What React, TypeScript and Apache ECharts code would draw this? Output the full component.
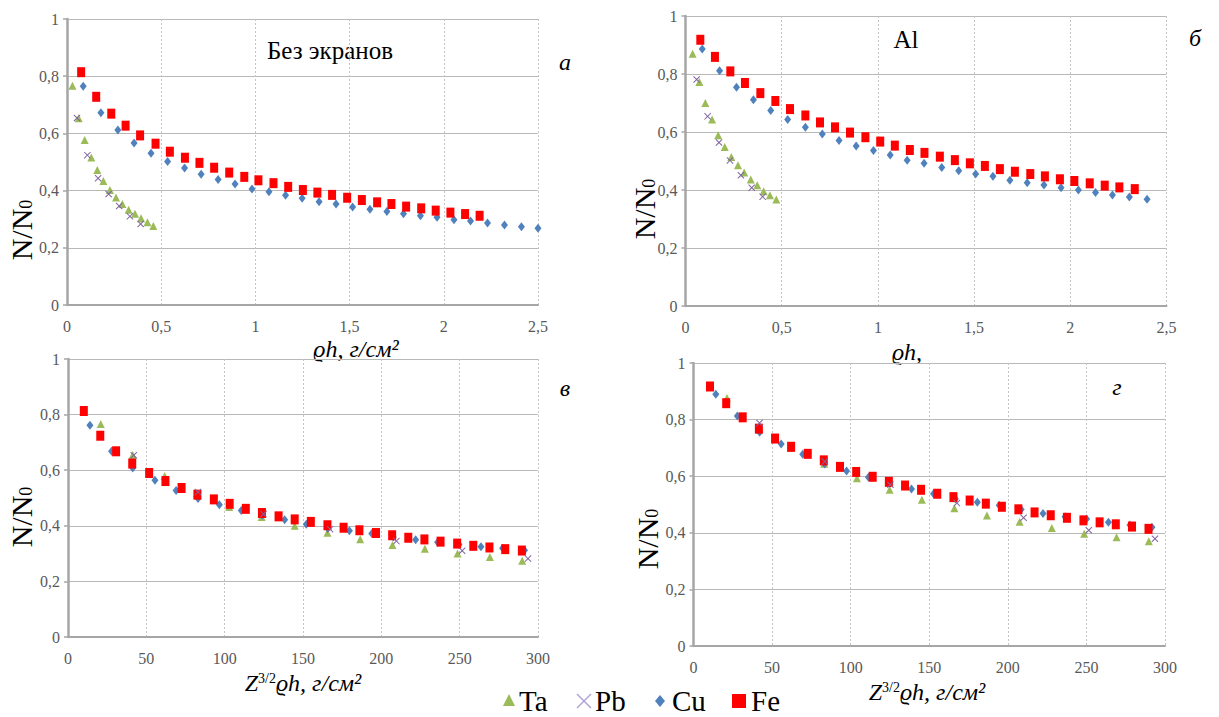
import React, { useEffect, useRef } from "react";
import * as echarts from "echarts";

type P = [number, number];

// Panel а — без экранов (x: ϱh, г/см²)
const aTa: P[] = [[0.029,0.767],[0.062,0.653],[0.094,0.577],[0.129,0.516],[0.161,0.472],[0.193,0.434],[0.228,0.402],[0.260,0.376],[0.294,0.353],[0.327,0.333],[0.361,0.319],[0.393,0.303],[0.427,0.289],[0.458,0.276]];
const aPb: P[] = [[0.053,0.654],[0.108,0.524],[0.165,0.443],[0.221,0.388],[0.277,0.346],[0.334,0.310],[0.391,0.283]];
const aCu: P[] = [[0.086,0.765],[0.180,0.672],[0.270,0.612],[0.356,0.566],[0.446,0.531],[0.534,0.502],[0.624,0.479],[0.712,0.457],[0.802,0.439],[0.892,0.423],[0.982,0.406],[1.072,0.396],[1.160,0.384],[1.248,0.373],[1.338,0.361],[1.428,0.353],[1.516,0.343],[1.608,0.335],[1.698,0.327],[1.786,0.319],[1.876,0.312],[1.964,0.307],[2.054,0.298],[2.142,0.294],[2.232,0.287],[2.322,0.280],[2.412,0.274],[2.500,0.268]];
const aFe: P[] = [[0.075,0.814],[0.155,0.728],[0.235,0.669],[0.311,0.627],[0.388,0.593],[0.470,0.564],[0.546,0.536],[0.626,0.515],[0.703,0.497],[0.781,0.480],[0.861,0.463],[0.941,0.448],[1.016,0.436],[1.096,0.426],[1.174,0.413],[1.252,0.402],[1.329,0.393],[1.407,0.385],[1.487,0.375],[1.565,0.367],[1.646,0.359],[1.722,0.353],[1.800,0.344],[1.880,0.338],[1.957,0.330],[2.035,0.323],[2.113,0.318],[2.190,0.312]];

// Panel б — Al
const bTa: P[] = [[0.037,0.870],[0.072,0.772],[0.103,0.700],[0.138,0.643],[0.170,0.589],[0.204,0.548],[0.238,0.514],[0.273,0.485],[0.305,0.460],[0.339,0.436],[0.373,0.416],[0.406,0.396],[0.439,0.382],[0.472,0.367]];
const bPb: P[] = [[0.058,0.781],[0.115,0.654],[0.174,0.564],[0.231,0.502],[0.288,0.451],[0.344,0.408],[0.401,0.377]];
const bCu: P[] = [[0.087,0.886],[0.177,0.811],[0.265,0.754],[0.353,0.711],[0.443,0.674],[0.531,0.643],[0.623,0.616],[0.711,0.593],[0.798,0.571],[0.887,0.552],[0.977,0.536],[1.064,0.521],[1.152,0.503],[1.240,0.492],[1.332,0.478],[1.420,0.466],[1.508,0.455],[1.598,0.447],[1.686,0.434],[1.776,0.425],[1.863,0.417],[1.952,0.408],[2.042,0.400],[2.131,0.391],[2.219,0.383],[2.307,0.376],[2.399,0.368]];
const bFe: P[] = [[0.077,0.918],[0.153,0.859],[0.233,0.809],[0.309,0.769],[0.389,0.734],[0.467,0.707],[0.543,0.679],[0.623,0.657],[0.699,0.633],[0.777,0.616],[0.855,0.598],[0.935,0.582],[1.012,0.567],[1.088,0.553],[1.166,0.538],[1.242,0.528],[1.322,0.515],[1.400,0.503],[1.478,0.492],[1.556,0.483],[1.634,0.472],[1.712,0.463],[1.792,0.455],[1.868,0.447],[1.946,0.437],[2.021,0.431],[2.101,0.423],[2.179,0.415],[2.255,0.409],[2.335,0.403]];

// Panel в — без экранов (x: Z^3/2 ϱh)
const cTa: P[] = [[20.9,0.766],[41.3,0.655],[61.7,0.579],[82.3,0.517],[102.9,0.468],[123.6,0.432],[144.7,0.400],[165.6,0.375],[186.5,0.352],[207.1,0.331],[227.8,0.317],[248.6,0.300],[269.3,0.288],[289.9,0.274]];
const cPb: P[] = [[42.0,0.654],[83.0,0.522],[124.8,0.442],[167.3,0.388],[209.6,0.345],[251.6,0.310],[293.6,0.282]];
const cCu: P[] = [[14.0,0.762],[27.8,0.668],[41.3,0.608],[55.5,0.564],[69.0,0.527],[83.0,0.498],[96.6,0.476],[110.6,0.455],[124.1,0.438],[138.3,0.422],[152.1,0.406],[165.8,0.390],[179.6,0.382],[193.9,0.372],[207.6,0.360],[221.9,0.350],[235.9,0.341],[249.6,0.333],[263.6,0.325],[277.4,0.319],[291.4,0.312]];
const cFe: P[] = [[10.1,0.813],[20.6,0.724],[30.7,0.668],[41.0,0.624],[51.8,0.590],[62.2,0.561],[72.5,0.536],[82.6,0.512],[93.1,0.495],[103.2,0.479],[113.5,0.461],[123.8,0.446],[134.4,0.434],[144.7,0.423],[155.0,0.414],[165.6,0.402],[175.9,0.393],[186.0,0.384],[196.6,0.374],[206.9,0.366],[217.2,0.357],[227.5,0.351],[237.8,0.343],[248.4,0.336],[258.7,0.328],[269.0,0.322],[279.1,0.316],[289.7,0.311]];

// Panel г — Al (x: Z^3/2 ϱh)
const dTa: P[] = [[21.3,0.876],[41.6,0.772],[62.0,0.700],[83.2,0.644],[104.0,0.593],[124.8,0.552],[145.3,0.517],[166.0,0.487],[186.7,0.461],[207.5,0.439],[228.0,0.417],[248.6,0.397],[269.2,0.384],[289.7,0.370]];
const dPb: P[] = [[42.0,0.788],[83.5,0.652],[125.3,0.570],[167.6,0.505],[210.0,0.453],[251.5,0.409],[293.6,0.379]];
const dCu: P[] = [[14.2,0.890],[27.9,0.813],[42.1,0.755],[55.8,0.714],[69.5,0.678],[83.4,0.643],[97.4,0.618],[111.3,0.596],[125.0,0.575],[138.7,0.555],[152.7,0.538],[166.6,0.520],[180.6,0.508],[194.5,0.497],[208.5,0.482],[222.4,0.468],[236.4,0.457],[250.1,0.449],[264.0,0.437],[277.7,0.428],[291.7,0.420]];
const dFe: P[] = [[10.5,0.917],[20.8,0.858],[31.3,0.808],[41.6,0.768],[51.9,0.733],[62.1,0.704],[72.7,0.679],[82.9,0.656],[93.2,0.633],[103.5,0.615],[114.0,0.598],[124.3,0.580],[134.6,0.567],[144.8,0.552],[155.1,0.538],[165.4,0.526],[175.7,0.514],[186.0,0.503],[196.2,0.492],[206.7,0.483],[217.0,0.472],[227.3,0.462],[237.6,0.453],[248.1,0.444],[258.4,0.437],[268.7,0.430],[279.0,0.422],[289.5,0.414]];

const legendNames = ["Ta", "Pb", "Cu", "Fe"];
const panelLabels = ["Без экранов", "Al"];
const panelLetters = ["а", "б", "в", "г"];

const SERIF = "Liberation Serif";
const CROSS = "path://M0,1L1,0L5,4L9,0L10,1L6,5L10,9L9,10L5,6L1,10L0,9L4,5Z";

const seriesStyle: Record<string, any> = {
  Ta: { symbol: "triangle", symbolSize: [8, 8], color: "#9BBB59" },
  Pb: { symbol: CROSS, symbolSize: [7, 7], color: "#8064A2" },
  Cu: { symbol: "diamond", symbolSize: [7, 9], color: "#4F81BD" },
  Fe: { symbol: "rect", symbolSize: [8, 10], color: "#FF0000" },
};

const fmt = (v: number) => String(Math.round(v * 100) / 100).replace(".", ",");

export default function App() {
  const ref = useRef<HTMLDivElement>(null);
  useEffect(() => {
    if (!ref.current) return;
    const chart = echarts.init(ref.current, undefined, { renderer: "svg" });
    const grids = [
      { left: 67, top: 19, width: 471, height: 286 },
      { left: 685.5, top: 16, width: 481, height: 290 },
      { left: 68, top: 359, width: 470, height: 278 },
      { left: 693.5, top: 363, width: 471.5, height: 283 },
    ];
    const xMax = [2.5, 2.5, 300, 300];
    const xInt = [0.5, 0.5, 50, 50];
    const labelStyle = {
      formatter: (v: number) => `{t|${fmt(v)}}`,
      rich: { t: { fontFamily: SERIF, fontSize: 16, color: "#595959" } },
      fontFamily: SERIF,
      fontSize: 16,
      color: "#595959",
    };
    const xAxis = grids.map((_, i) => ({
      type: "value",
      gridIndex: i,
      min: 0,
      max: xMax[i],
      interval: xInt[i],
      axisLine: { lineStyle: { color: "#a6a6a6", width: 2 } },
      axisTick: { show: false },
      axisLabel: { ...labelStyle, margin: 13 },
      splitLine: { show: true, lineStyle: { color: "#c4c4c4", type: [2, 2], width: 1 } },
    }));
    const yAxis = grids.map((_, i) => ({
      type: "value",
      gridIndex: i,
      min: 0,
      max: 1,
      interval: 0.2,
      axisLine: { show: true, lineStyle: { color: "#a6a6a6", width: 2.5 } },
      axisTick: { show: true, length: 4, lineStyle: { color: "#a6a6a6", width: 1.5 } },
      axisLabel: { ...labelStyle, margin: 8 },
      splitLine: { show: true, lineStyle: { color: "#b8b8b8", width: 1 } },
    }));
    const panels: Record<string, P[]>[] = [
      { Ta: aTa, Pb: aPb, Cu: aCu, Fe: aFe },
      { Ta: bTa, Pb: bPb, Cu: bCu, Fe: bFe },
      { Ta: cTa, Pb: cPb, Cu: cCu, Fe: cFe },
      { Ta: dTa, Pb: dPb, Cu: dCu, Fe: dFe },
    ];
    const drawOrder = ["Ta", "Cu", "Fe", "Pb"];
    const series: any[] = [];
    panels.forEach((p, i) => {
      drawOrder.forEach((name) => {
        const st = seriesStyle[name];
        series.push({
          type: "scatter",
          name,
          xAxisIndex: i,
          yAxisIndex: i,
          data: p[name],
          symbol: st.symbol,
          symbolSize: st.symbolSize,
          itemStyle: { color: st.color, opacity: 1 },
          emphasis: { disabled: true },
        });
      });
    });

    const yTitle = (x: number, y: number) => ({
      type: "text",
      x,
      y,
      rotation: Math.PI / 2,
      style: {
        text: "{n|N/N}{s|0}",
        textAlign: "center",
        textVerticalAlign: "middle",
        rich: {
          n: { fontFamily: SERIF, fontSize: 30, fill: "#000" },
          s: { fontFamily: SERIF, fontSize: 18, fill: "#000", padding: [10, 0, 0, 0] },
        },
      },
    });
    const text = (x: number, y: number, t: string, size: number, italic = false) => ({
      type: "text",
      x,
      y,
      style: {
        text: t,
        fontFamily: SERIF,
        fontSize: size,
        fontStyle: italic ? "italic" : "normal",
        fill: "#000",
        textAlign: "center",
        textVerticalAlign: "middle",
      },
    });
    const zTitle = (x: number, y: number) => ({
      type: "text",
      x,
      y,
      style: {
        text: "{z|Z}{s|3/2}{z|ϱh, г/см²}",
        textAlign: "center",
        textVerticalAlign: "middle",
        rich: {
          z: { fontFamily: SERIF, fontSize: 24, fontStyle: "italic", fill: "#000" },
          s: { fontFamily: SERIF, fontSize: 14, fill: "#000", padding: [0, 0, 10, 0] },
        },
      },
    });
    // legend drawn as graphic elements
    const legendX = [509, 584, 660, 739];
    const legendTextX = [519, 595, 672, 751];
    const legendGraphics: any[] = [];
    legendNames.forEach((n, i) => {
      const st = seriesStyle[n];
      const cx = legendX[i];
      const cy = 701;
      let shape: any;
      if (n === "Ta") shape = { type: "polygon", shape: { points: [[cx, cy - 7], [cx + 6, cy + 5], [cx - 6, cy + 5]] }, style: { fill: st.color } };
      else if (n === "Pb") shape = { type: "polyline", shape: { points: [[cx - 7, cy - 7], [cx + 7, cy + 7]] }, style: { stroke: "#b0a3d4", lineWidth: 1.5 } };
      else if (n === "Cu") shape = { type: "polygon", shape: { points: [[cx, cy - 6], [cx + 5, cy], [cx, cy + 6], [cx - 5, cy]] }, style: { fill: st.color } };
      else shape = { type: "rect", shape: { x: cx - 7, y: cy - 7, width: 14, height: 14 }, style: { fill: st.color } };
      legendGraphics.push(shape);
      if (n === "Pb") legendGraphics.push({ type: "polyline", shape: { points: [[cx + 7, cy - 7], [cx - 7, cy + 7]] }, style: { stroke: "#b0a3d4", lineWidth: 1.5 } });
      legendGraphics.push({
        type: "text",
        x: legendTextX[i],
        y: cy,
        style: { text: n, fontFamily: SERIF, fontSize: 29, fill: "#000", textAlign: "left", textVerticalAlign: "middle" },
      });
    });

    chart.setOption({
      animation: false,
      backgroundColor: "#fff",
      textStyle: { fontFamily: SERIF },
      grid: grids,
      xAxis,
      yAxis,
      series,
      legend: { show: false, data: legendNames },
      graphic: [
        yTitle(21, 230),
        yTitle(644, 209),
        yTitle(21, 517),
        yTitle(647, 539),
        text(330, 50, panelLabels[0], 25),
        text(906, 39, panelLabels[1], 25),
        text(565, 62, panelLetters[0], 24, true),
        text(1195, 38, panelLetters[1], 24, true),
        text(565, 388, panelLetters[2], 24, true),
        text(1117, 387, panelLetters[3], 24, true),
        text(356, 349, "ϱh, г/см²", 24, true),
        text(907, 352, "ϱh,", 24, true),
        zTitle(303, 683),
        zTitle(927, 692),
        ...legendGraphics,
      ],
    });
    return () => chart.dispose();
  }, []);
  return <div ref={ref} style={{ position: "fixed", left: 0, top: 0, width: 1219, height: 717, background: "#fff" }} />;
}
